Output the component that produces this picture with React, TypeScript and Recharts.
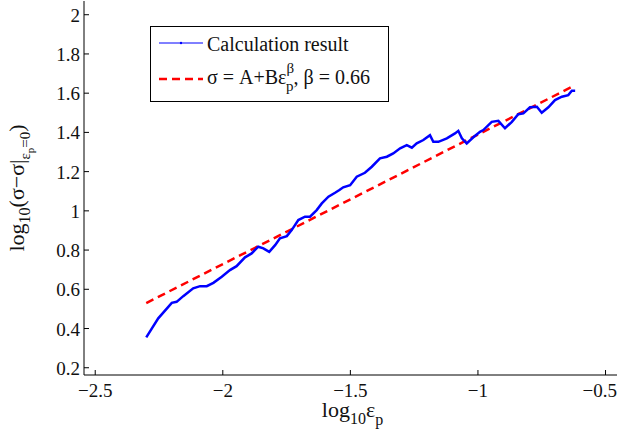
import { ComposedChart, Line, XAxis, YAxis } from "recharts";

const FONT = '"Liberation Serif", "Times New Roman", Times, "DejaVu Serif", serif';

// calculation result (log10 eps_p vs log10 stress increment)
const calcX = [
  -2.3, -2.253, -2.2, -2.181, -2.155, -2.116, -2.089, -2.063, -2.037, -2.004,
  -1.972, -1.946, -1.913, -1.887, -1.861, -1.841, -1.818, -1.795, -1.776, -1.749,
  -1.73, -1.704, -1.678, -1.658, -1.632, -1.612, -1.586, -1.56, -1.543, -1.528,
  -1.501, -1.475, -1.443, -1.416, -1.384, -1.357, -1.332, -1.305, -1.279, -1.259,
  -1.24, -1.214, -1.188, -1.175, -1.155, -1.122, -1.09, -1.077, -1.063, -1.044,
  -1.018, -0.992, -0.979, -0.946, -0.92, -0.894, -0.867, -0.842, -0.822, -0.796,
  -0.769, -0.75, -0.724, -0.698, -0.671, -0.646, -0.632, -0.619,
];
const calcY = [
  0.355, 0.452, 0.531, 0.536, 0.565, 0.605, 0.616, 0.616, 0.633, 0.664,
  0.698, 0.718, 0.763, 0.783, 0.817, 0.809, 0.791, 0.825, 0.86, 0.871,
  0.902, 0.953, 0.97, 0.97, 1.004, 1.038, 1.072, 1.092, 1.106, 1.12,
  1.131, 1.174, 1.194, 1.225, 1.268, 1.276, 1.293, 1.319, 1.335, 1.322,
  1.344, 1.361, 1.386, 1.352, 1.352, 1.37, 1.395, 1.408, 1.37, 1.344,
  1.375, 1.403, 1.412, 1.454, 1.459, 1.421, 1.454, 1.493, 1.497, 1.528,
  1.531, 1.5, 1.528, 1.565, 1.582, 1.59, 1.612, 1.612,
];

// fitted power law, beta = 0.66
const fitX = [-2.3, -0.62];
const fitY = [0.53, 1.64];

const xTicks = [-2.5, -2, -1.5, -1, -0.5];
const yTicks = [0.2, 0.4, 0.6, 0.8, 1, 1.2, 1.4, 1.6, 1.8, 2];

const calcData = calcX.map((x, i) => ({ x, y: calcY[i] }));
const fitData = fitX.map((x, i) => ({ x, y: fitY[i] }));

const fmt = (v: number) => (v < 0 ? "\u2212" + String(-v) : String(v));
const txt = { fontFamily: FONT, fill: "#111" };

function BottomTick({ x, y, payload }: any) {
  // keep the last label inside the page, like the original figure
  const nearEdge = x > 590;
  return (
    <g>
      <line x1={x} x2={x} y1={y} y2={y - 5} stroke="#000" />
      <text
        x={nearEdge ? 617 : x}
        y={y + 22}
        textAnchor={nearEdge ? "end" : "middle"}
        fontSize={19}
        style={txt}
      >
        {fmt(payload.value)}
      </text>
    </g>
  );
}

function LeftTick({ x, y, payload }: any) {
  return (
    <g>
      <line x1={x} x2={x + 5} y1={y} y2={y} stroke="#000" />
      <text x={x - 4} y={y + 7} textAnchor="end" fontSize={19} style={txt}>
        {fmt(payload.value)}
      </text>
    </g>
  );
}

const TopTick = ({ x, y }: any) => <line x1={x} x2={x} y1={y} y2={y + 5} stroke="#000" />;
const RightTick = ({ x, y }: any) => <line x1={x} x2={x - 5} y1={y} y2={y} stroke="#000" />;

function XLabel({ viewBox }: any) {
  const cx = viewBox.x + viewBox.width / 2 + 2;
  return (
    <text x={cx} y={viewBox.y + 42} textAnchor="middle" fontSize={22} style={txt}>
      log
      <tspan fontSize={16} dy={7}>10</tspan>
      <tspan fontSize={22} dy={-7}>ε</tspan>
      <tspan fontSize={16} dy={8}>p</tspan>
    </text>
  );
}

function YLabel({ viewBox }: any) {
  const cy = viewBox.y + viewBox.height / 2;
  const bx = 24;
  return (
    <text
      x={bx}
      y={cy}
      transform={`rotate(-90, ${bx}, ${cy})`}
      textAnchor="middle"
      fontSize={22}
      style={txt}
    >
      log
      <tspan fontSize={16} dy={6}>10</tspan>
      <tspan fontSize={22} dy={-6}>(σ−σ|</tspan>
      <tspan fontSize={15} dy={6}>ε</tspan>
      <tspan fontSize={11} dy={4}>p</tspan>
      <tspan fontSize={15} dy={-4}>=0</tspan>
      <tspan fontSize={22} dy={-6}>)</tspan>
    </text>
  );
}

function LegendBox() {
  return (
    <div style={{ position: "absolute", left: 150, top: 26 }}>
      <svg width={239} height={76} style={{ display: "block" }}>
        <rect x={0.5} y={0.5} width={238} height={75} fill="#fff" stroke="#000" />
        <line x1={9} x2={53} y1={17} y2={17} stroke="#0000ff" strokeWidth={1} />
        <circle cx={31} cy={17} r={1.2} fill="#0000ff" />
        <text x={57} y={25} fontSize={20} style={txt}>
          Calculation result
        </text>
        <line x1={9} x2={53} y1={53} y2={53} stroke="#ff0000" strokeWidth={2.5} strokeDasharray="8 5" />
        <text x={57} y={58} fontSize={20} style={txt}>
          σ = A+Bε
          <tspan fontSize={15} dy={-11}>β</tspan>
          <tspan fontSize={15} dx={-8.2} dy={18}>p</tspan>
          <tspan fontSize={20} dy={-7}>, β = 0.66</tspan>
        </text>
      </svg>
    </div>
  );
}

export default function App() {
  return (
    <div
      style={{
        position: "absolute",
        left: 0,
        top: 0,
        width: 619,
        height: 441,
        background: "#fff",
        fontFamily: FONT,
      }}
    >
      <ComposedChart width={619} height={441} margin={{ top: 1, right: 2, bottom: 0, left: 0 }}>
        <XAxis
          type="number"
          dataKey="x"
          domain={[-2.544, -0.455]}
          ticks={xTicks}
          allowDataOverflow
          height={66}
          tickSize={0}
          tickMargin={0}
          tick={<BottomTick />}
          axisLine={{ stroke: "#000" }}
          label={<XLabel />}
        />
        <XAxis
          xAxisId="top"
          orientation="top"
          type="number"
          dataKey="x"
          domain={[-2.544, -0.455]}
          ticks={xTicks}
          allowDataOverflow
          height={0}
          tickSize={0}
          tickMargin={0}
          tick={<TopTick />}
          axisLine={{ stroke: "#000" }}
        />
        <YAxis
          type="number"
          dataKey="y"
          domain={[0.163, 2.07]}
          ticks={yTicks}
          allowDataOverflow
          width={84}
          tickSize={0}
          tickMargin={0}
          tick={<LeftTick />}
          axisLine={{ stroke: "#000" }}
          label={<YLabel />}
        />
        <YAxis
          yAxisId="right"
          orientation="right"
          type="number"
          dataKey="y"
          domain={[0.163, 2.07]}
          ticks={yTicks}
          allowDataOverflow
          width={0}
          tickSize={0}
          tickMargin={0}
          tick={<RightTick />}
          axisLine={{ stroke: "#000" }}
        />
        <Line
          data={fitData}
          dataKey="y"
          stroke="#ff0000"
          strokeWidth={2.5}
          strokeDasharray="8 5"
          dot={false}
          isAnimationActive={false}
        />
        <Line
          data={calcData}
          dataKey="y"
          stroke="#0000ff"
          strokeWidth={2.5}
          dot={false}
          type="linear"
          isAnimationActive={false}
        />
      </ComposedChart>
      <LegendBox />
    </div>
  );
}
